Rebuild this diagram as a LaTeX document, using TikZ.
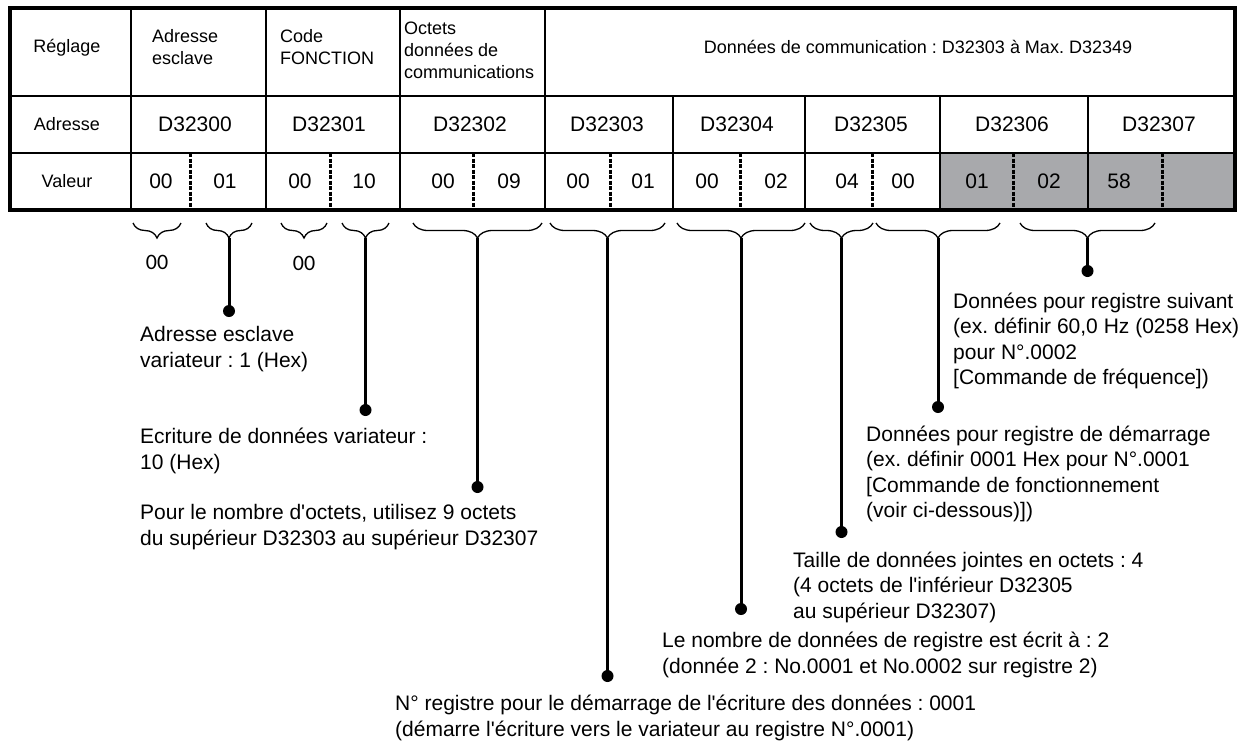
\documentclass[tikz,border=0pt]{standalone}
\usepackage{fontspec}
\setmainfont{Liberation Sans}
\newfontfamily\calibfont{Carlito}
\usetikzlibrary{decorations.pathreplacing}
\definecolor{cellgray}{RGB}{168,169,172}
\newcommand{\qs}{\textquotesingle}
\frenchspacing
\begin{document}
\begin{tikzpicture}[x=1pt,y=-1pt,
 gridline/.style={line width=2.6pt},
 framebox/.style={line width=3.2pt},
 halfsep/.style={line width=3pt, dash pattern=on 4pt off 1.5pt},
 hdr/.style={font=\fontsize{18}{22}\selectfont, inner sep=0pt, align=left, anchor=west},
 lbl/.style={font=\fontsize{18}{22}\selectfont, inner sep=0pt},
 addr/.style={font=\fontsize{21}{25}\selectfont, inner sep=0pt},
 val/.style={font=\fontsize{21}{25}\selectfont, inner sep=0pt},
 note/.style={font=\fontsize{21}{25.5}\selectfont, inner sep=0pt, align=left, anchor=west},
 brc/.style={decorate, decoration={brace, mirror, amplitude=15pt}, line width=1.3pt},
 lead/.style={line width=3pt},
 dot/.style={circle, fill=black, inner sep=0pt, minimum size=12pt},
 zz/.style={font=\calibfont\fontsize{22}{26}\selectfont, inner sep=0pt}
]
\useasboundingbox (0,0) rectangle (1248,742);
% gray cells
\fill[cellgray] (940,153) rectangle (1235,210);
% grid
\draw[gridline] (10,96) -- (1235,96);
\draw[gridline] (10,153) -- (1235,153);
\foreach \x in {131,266,400,545} \draw[gridline] (\x,8) -- (\x,210);
\foreach \x in {673,805,940,1088} \draw[gridline] (\x,96) -- (\x,210);
\foreach \x in {190,330,473,610,740,872,1013,1162} \draw[halfsep] (\x,153) -- (\x,210);
\draw[framebox] (10,8) rectangle (1235,210);

% row 1
\node[lbl] (rreg) at (67,48) {Réglage};
\node[hdr] (hadr) at (152,47) {Adresse\\esclave};
\node[hdr] (hcode) at (280,47) {Code\\FONCTION};
\node[hdr] (hoct) at (404,50) {Octets\\données de\\communications};
\node[lbl] (hdata) at (918,47) {Données de communication : D32303 à Max. D32349};
% row 2
\node[lbl] (radr) at (67,124) {Adresse};
\node[addr] (a0) at (195,124) {D32300};
\node[addr] (a1) at (329,124) {D32301};
\node[addr] (a2) at (470,124) {D32302};
\node[addr] (a3) at (607,124) {D32303};
\node[addr] (a4) at (737,124) {D32304};
\node[addr] (a5) at (871,124) {D32305};
\node[addr] (a6) at (1012,124) {D32306};
\node[addr] (a7) at (1159,124) {D32307};
% row 3
\node[lbl] (rval) at (67,181) {Valeur};
\node[val] (v1) at (161,181) {00};
\node[val] (v2) at (225,181) {01};
\node[val] (v3) at (300,181) {00};
\node[val] (v4) at (364,181) {10};
\node[val] (v5) at (443,181) {00};
\node[val] (v6) at (509,181) {09};
\node[val] (v7) at (578,181) {00};
\node[val] (v8) at (643,181) {01};
\node[val] (v9) at (707,181) {00};
\node[val] (v10) at (776,181) {02};
\node[val] (v11) at (847,181) {04};
\node[val] (v12) at (903,181) {00};
\node[val] (v13) at (977,181) {01};
\node[val] (v14) at (1049,181) {02};
\node[val] (v15) at (1119,181) {58};

% braces
\draw[brc] (133,223) -- (181,223);
\draw[brc] (206,223) -- (252,223);
\draw[brc] (281,223) -- (327,223);
\draw[brc] (342,223) -- (389,223);
\draw[brc] (413,223) -- (542,223);
\draw[brc] (550,223) -- (665,223);
\draw[brc] (677,223) -- (805,223);
\draw[brc] (810,223) -- (873,223);
\draw[brc] (876,223) -- (1000,223);
\draw[brc] (1020,223) -- (1155,223);

\node[zz] (z1) at (157,262) {00};
\node[zz] (z2) at (304,263) {00};

% brace tips
\coordinate (t2) at (229,238);
\coordinate (t4) at (365.5,238);
\coordinate (t5) at (477.5,238);
\coordinate (t6) at (607.5,238);
\coordinate (t7) at (741,238);
\coordinate (t8) at (841.5,238);
\coordinate (t9) at (938,238);
\coordinate (t10) at (1087.5,238);
% dots
\node[dot] (d2) at (229,311) {};
\node[dot] (d4) at (365.5,410) {};
\node[dot] (d5) at (477.5,487) {};
\node[dot] (d6) at (607.5,676) {};
\node[dot] (d7) at (741,609) {};
\node[dot] (d8) at (841.5,532) {};
\node[dot] (d9) at (938,407) {};
\node[dot] (d10) at (1087.5,271) {};
\foreach \i in {2,4,5,6,7,8,9,10} \draw[lead] (t\i) -- (d\i.center);

% notes
\node[note] (nA) at (140,349) {Adresse esclave\\variateur : 1 (Hex)};
\node[note] (nB) at (140,451) {Ecriture de données variateur :\\10 (Hex)};
\node[note] (nC) at (140,527) {Pour le nombre d\qs octets, utilisez 9 octets\\du supérieur D32303 au supérieur D32307};
\node[note] (nD) at (395,718) {N° registre pour le démarrage de l\qs écriture des données : 0001\\(démarre l\qs écriture vers le variateur au registre N°.0001)};
\node[note] (nE) at (662,655) {Le nombre de données de registre est écrit à : 2\\(donnée 2 : No.0001 et No.0002 sur registre 2)};
\node[note] (nF) at (793,587) {Taille de données jointes en octets : 4\\(4 octets de l\qs inférieur D32305\\au supérieur D32307)};
\node[note] (nG) at (866,474) {Données pour registre de démarrage\\(ex. définir 0001 Hex pour N°.0001\\{[}Commande de fonctionnement\\(voir ci-dessous)])};
\node[note] (nH) at (953,341) {Données pour registre suivant\\(ex. définir 60,0 Hz (0258 Hex)\\pour N°.0002\\{[}Commande de fréquence])};
\end{tikzpicture}
\end{document}
